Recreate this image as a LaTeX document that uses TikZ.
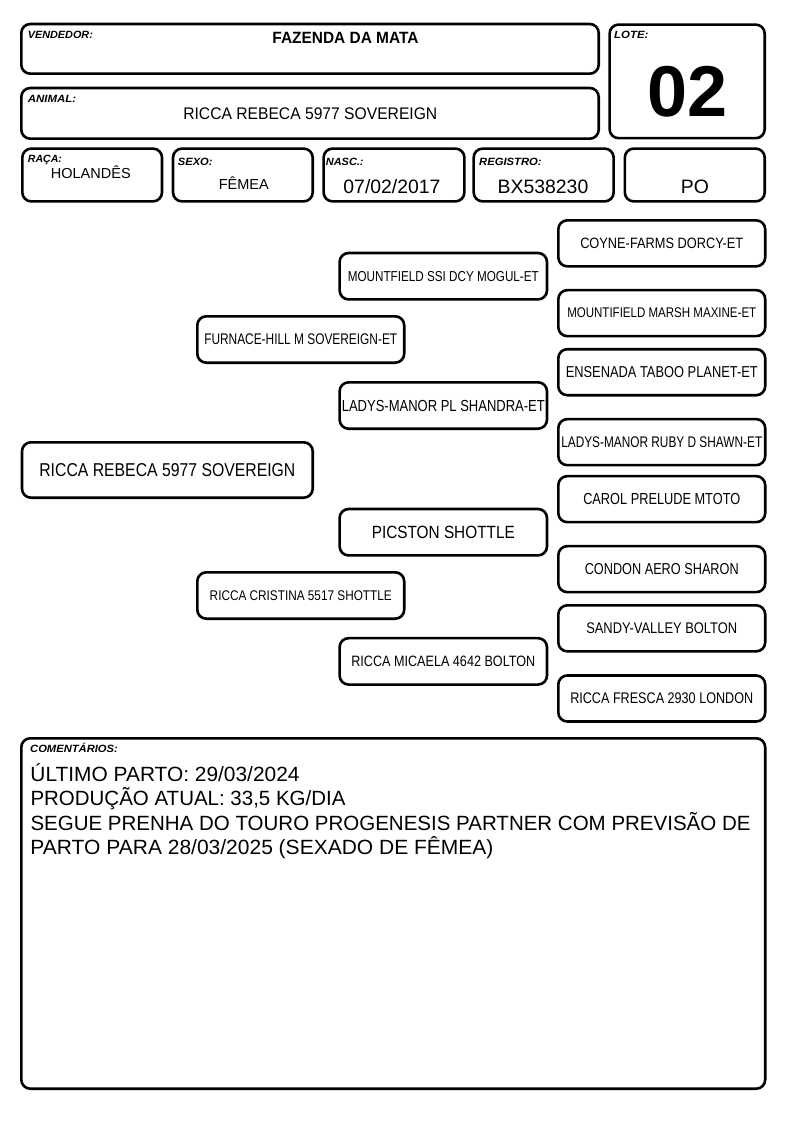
\documentclass[tikz,border=0pt]{standalone}
\usepackage{fontspec}
\setmainfont{Liberation Sans}
\usepackage{graphicx}
\newcommand{\fw}[2]{\resizebox{#1pt}{\height}{#2}}
\newcommand{\fs}[1]{\fontsize{#1}{#1}\selectfont}
\tikzset{
  box/.style={draw, line width=2.6pt, rounded corners=9pt, inner sep=0pt},
  lbl/.style={anchor=base west, inner sep=0pt, font=\fs{10.5}\bfseries\itshape},
  val/.style={anchor=base, inner sep=0pt},
  gen2/.style={box, minimum width=206.9pt, minimum height=46.4pt},
  gen3/.style={box, minimum width=207.4pt, minimum height=46.4pt},
  gen4/.style={box, minimum width=206.9pt, minimum height=46pt},
  cline/.style={anchor=base west, inner sep=0pt, font=\fs{20.6}},
}
\begin{document}
\begin{tikzpicture}[x=1pt,y=-1pt]
\useasboundingbox (0,0) rectangle (794,1123);

% header boxes
\node[box, minimum width=577.4pt, minimum height=49.7pt] (vend) at (310,48.85) {};
\node[box, minimum width=577.4pt, minimum height=50.7pt] (anim) at (310,113.35) {};
\node[box, minimum width=155.1pt, minimum height=113.6pt] (lote) at (687.15,81.4) {};
\node[box, minimum width=139.7pt, minimum height=52.8pt] (raca) at (92.15,175) {};
\node[box, minimum width=139.7pt, minimum height=52.8pt] (sexo) at (242.85,175) {};
\node[box, minimum width=140.8pt, minimum height=52.8pt] (nasc) at (394,175) {};
\node[box, minimum width=140pt, minimum height=52.8pt] (regi) at (543.65,175) {};
\node[box, minimum width=139.9pt, minimum height=52.8pt] (po) at (694.75,175) {};

% labels
\node[lbl] (lvend) at (27.7,39) {\fw{65}{VENDEDOR:}};
\node[lbl] (lanim) at (27.7,102.7) {\fw{48.3}{ANIMAL:}};
\node[lbl] (llote) at (614,39) {\fw{34.3}{LOTE:}};
\node[lbl] (lraca) at (27.7,162.7) {\fw{34}{RAÇA:}};
\node[lbl] (lsexo) at (177.7,165.7) {\fw{34.7}{SEXO:}};
\node[lbl] (lnasc) at (325.7,165.7) {\fw{37.7}{NASC.:}};
\node[lbl] (lregi) at (479,165.7) {\fw{62.5}{REGISTRO:}};
\node[lbl] (lcom) at (30,752.3) {\fw{87.7}{COMENTÁRIOS:}};

% values
\node[val, font=\fs{16.3}\bfseries] (tvend) at (345.5,43.3) {\fw{146}{FAZENDA DA MATA}};
\node[val, font=\fs{16.8}] (tanim) at (310.3,119.3) {\fw{254}{RICCA REBECA 5977 SOVEREIGN}};
\node[val, font=\fs{72}\bfseries] (tlote) at (687.5,116.7) {02};
\node[val, font=\fs{14.5}] (traca) at (90.8,178.3) {HOLANDÊS};
\node[val, font=\fs{14.5}] (tsexo) at (243.8,189.3) {FÊMEA};
\node[val, font=\fs{19.4}] (tnasc) at (392,193.3) {07/02/2017};
\node[val, font=\fs{19.4}] (tregi) at (543,193.3) {BX538230};
\node[val, font=\fs{19.4}] (tpo) at (695,193.3) {PO};

% pedigree
\node[box, minimum width=290.7pt, minimum height=55.4pt, font=\fs{18.6}] (self) at (167.35,470) {\fw{256}{RICCA REBECA 5977 SOVEREIGN}};

\node[gen2, font=\fs{15.4}] (s) at (300.75,339.5) {\fw{193}{FURNACE-HILL M SOVEREIGN-ET}};
\node[gen2, font=\fs{14}] (d) at (300.75,595.5) {\fw{182}{RICCA CRISTINA 5517 SHOTTLE}};

\node[gen3, font=\fs{14.4}] (ss) at (443.3,276.2) {\fw{191}{MOUNTFIELD SSI DCY MOGUL-ET}};
\node[gen3, font=\fs{16}] (sd) at (443.3,405.5) {\fw{203}{LADYS-MANOR PL SHANDRA-ET}};
\node[gen3, font=\fs{17.7}] (ds) at (443.3,532.2) {\fw{143}{PICSTON SHOTTLE}};
\node[gen3, font=\fs{15}] (dd) at (443.3,661.35) {\fw{184}{RICCA MICAELA 4642 BOLTON}};

\node[gen4, font=\fs{15}] (sss) at (661.75,243.35) {\fw{163}{COYNE-FARMS DORCY-ET}};
\node[gen4, font=\fs{14}] (ssd) at (661.75,313.15) {\fw{189}{MOUNTIFIELD MARSH MAXINE-ET}};
\node[gen4, font=\fs{15.8}] (sds) at (661.75,372.2) {\fw{192}{ENSENADA TABOO PLANET-ET}};
\node[gen4, font=\fs{15.4}] (sdd) at (661.75,442.15) {\fw{201}{LADYS-MANOR RUBY D SHAWN-ET}};
\node[gen4, font=\fs{16}] (dss) at (661.75,499.15) {\fw{157}{CAROL PRELUDE MTOTO}};
\node[gen4, font=\fs{15.8}] (dsd) at (661.75,569.15) {\fw{154}{CONDON AERO SHARON}};
\node[gen4, font=\fs{15.4}] (dds) at (661.75,628.35) {\fw{151}{SANDY-VALLEY BOLTON}};
\node[gen4, font=\fs{15.4}] (ddd) at (661.75,698.5) {\fw{183}{RICCA FRESCA 2930 LONDON}};

% comments
\node[box, minimum width=743.9pt, minimum height=350.4pt] (com) at (393.25,913.5) {};
\node[cline] (c1) at (30.3,781) {\fw{269}{ÚLTIMO PARTO: 29/03/2024}};
\node[cline] (c2) at (30.3,805.5) {\fw{315}{PRODUÇÃO ATUAL: 33,5 KG/DIA}};
\node[cline] (c3) at (30.3,830) {\fw{720}{SEGUE PRENHA DO TOURO PROGENESIS PARTNER COM PREVISÃO DE}};
\node[cline] (c4) at (30.3,854.4) {\fw{463}{PARTO PARA 28/03/2025 (SEXADO DE FÊMEA)}};
\end{tikzpicture}
\end{document}
